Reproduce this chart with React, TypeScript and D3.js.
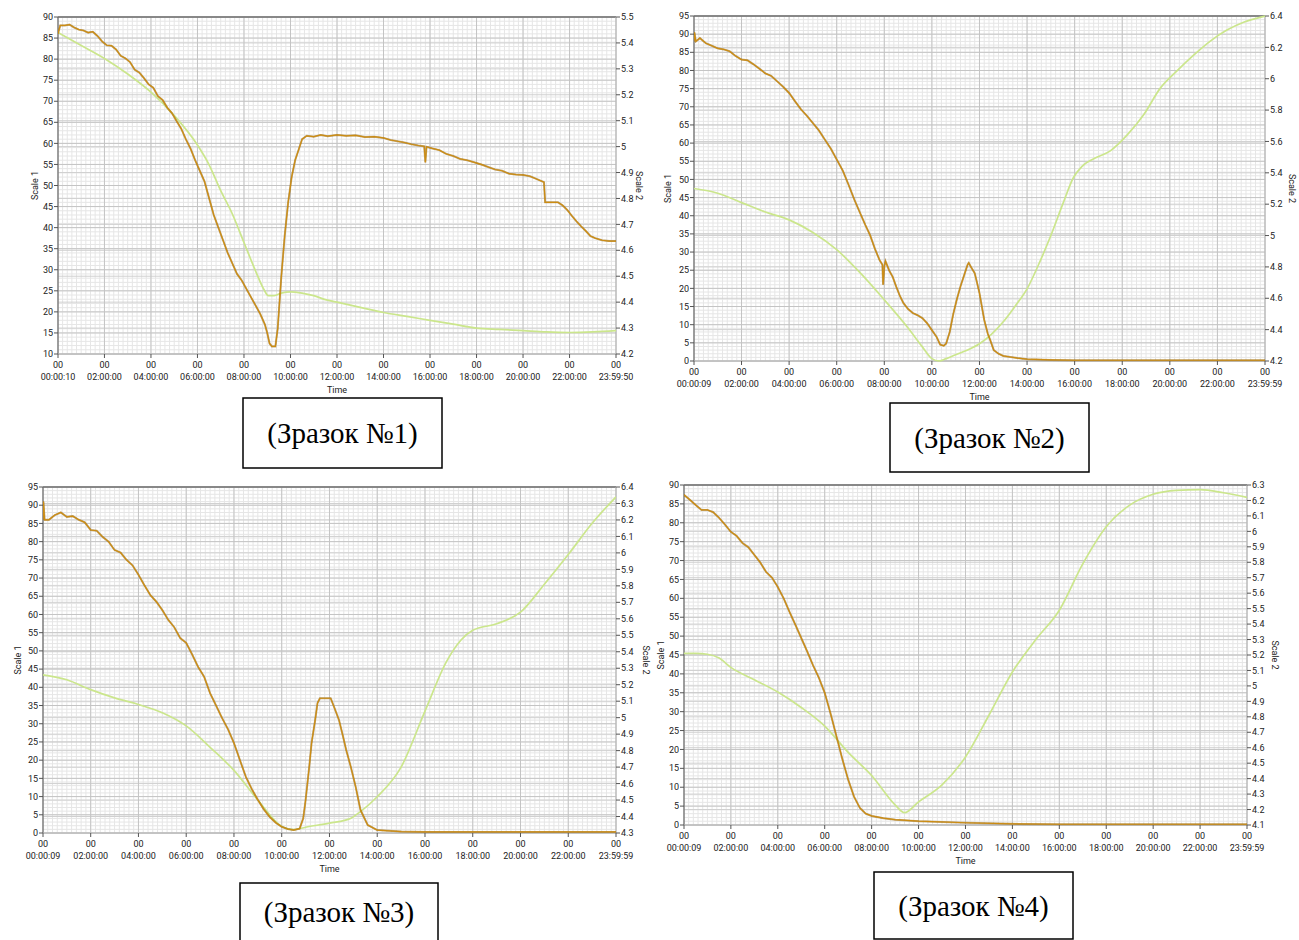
import React from 'react';
import * as d3 from 'd3';

// ---------------- DATA ----------------
const xLabelsA = ['00:00:10', '02:00:00', '04:00:00', '06:00:00', '08:00:00', '10:00:00', '12:00:00', '14:00:00', '16:00:00', '18:00:00', '20:00:00', '22:00:00', '23:59:50'];
const xLabelsB = ['00:00:09', '02:00:00', '04:00:00', '06:00:00', '08:00:00', '10:00:00', '12:00:00', '14:00:00', '16:00:00', '18:00:00', '20:00:00', '22:00:00', '23:59:59'];
const captions = ['(Зразок №1)', '(Зразок №2)', '(Зразок №3)', '(Зразок №4)'];

// Panel 1 (Scale 1 = orange, Scale 2 = green)
const p1OrangeT = [0, 0.1, 0.3, 0.5, 0.7, 0.9, 1.1, 1.3, 1.5, 1.7, 1.9, 2.1, 2.3, 2.5, 2.7, 2.9, 3.1, 3.3, 3.5, 3.7, 3.9, 4.1, 4.3, 4.5, 4.7, 4.9, 5.1, 5.3, 5.5, 5.7, 5.9, 6.1, 6.3, 6.5, 6.7, 6.9, 7.1, 7.3, 7.5, 7.7, 7.9, 8.1, 8.3, 8.5, 8.7, 8.9, 9.0, 9.1, 9.2, 9.35, 9.45, 9.6, 9.75, 9.9, 10.05, 10.2, 10.35, 10.5, 10.7, 11, 11.3, 11.6, 12, 12.4, 12.8, 13.2, 13.6, 14, 14.3, 14.6, 14.9, 15.2, 15.5, 15.75, 15.8, 15.85, 16.1, 16.4, 16.7, 17, 17.3, 17.6, 17.9, 18.2, 18.5, 18.8, 19.1, 19.4, 19.7, 20, 20.3, 20.6, 20.9, 20.95, 21.2, 21.5, 21.7, 21.9, 22.1, 22.3, 22.5, 22.7, 22.9, 23.1, 23.4, 23.7, 24];
const p1OrangeV = [86, 88, 88, 88.2, 87.5, 87, 86.8, 86.3, 86.5, 85.5, 84.2, 83.3, 83.2, 82.3, 80.8, 80.2, 79.3, 77.5, 76.8, 75.5, 74, 73.2, 71.2, 70.3, 68.5, 67.2, 65.3, 63.5, 61, 58.8, 56, 53.5, 51, 47, 43, 40, 37, 34, 31.5, 29, 27.5, 25.5, 23.5, 21.5, 19.5, 17, 15, 12.5, 11.8, 11.8, 16, 28, 38, 46, 52, 56, 58.5, 61, 61.8, 61.6, 62, 61.7, 62, 61.8, 61.9, 61.5, 61.6, 61.3, 60.8, 60.5, 60.2, 59.8, 59.5, 59.3, 55.5, 59.2, 58.8, 58.4, 57.5, 57, 56.3, 56, 55.5, 55, 54.4, 53.8, 53.5, 52.8, 52.6, 52.5, 52.2, 51.5, 50.8, 46, 46, 46, 45.3, 44.2, 42.8, 41.5, 40.3, 39.2, 38, 37.5, 37, 36.8, 36.8];
const p1GreenT = [0, 1, 2, 3, 4, 5, 6, 6.5, 7, 7.5, 8, 8.5, 8.85, 9.05, 9.3, 9.6, 10, 10.5, 11, 11.5, 12, 13, 14, 15, 16, 17, 18, 19, 20, 21, 22, 23, 24];
const p1GreenV = [5.44, 5.39, 5.34, 5.28, 5.21, 5.12, 5.006, 4.93, 4.83, 4.74, 4.63, 4.52, 4.45, 4.425, 4.425, 4.435, 4.44, 4.435, 4.425, 4.41, 4.40, 4.38, 4.36, 4.345, 4.33, 4.315, 4.30, 4.295, 4.29, 4.285, 4.283, 4.285, 4.29];

// Panel 2
const p2OrangeT = [0, 0.02, 0.08, 0.25, 0.5, 0.75, 1, 1.25, 1.5, 1.75, 2, 2.25, 2.5, 2.75, 3, 3.25, 3.5, 3.75, 4, 4.25, 4.5, 4.75, 5, 5.25, 5.5, 5.75, 6, 6.25, 6.5, 6.75, 7, 7.2, 7.4, 7.6, 7.8, 7.92, 7.95, 8.0, 8.05, 8.2, 8.35, 8.5, 8.65, 8.8, 9, 9.2, 9.4, 9.6, 9.8, 10, 10.2, 10.35, 10.5, 10.6, 10.75, 10.9, 11.05, 11.2, 11.35, 11.5, 11.55, 11.65, 11.8, 11.9, 12, 12.1, 12.2, 12.35, 12.45, 12.6, 12.8, 13, 13.3, 13.6, 14, 15, 16, 18, 20, 22, 24];
const p2OrangeV = [88, 90.5, 88, 88.9, 87.5, 86.8, 86.1, 85.8, 85.3, 84, 83, 82.8, 81.7, 80.5, 79.2, 78.5, 77, 75.5, 73.8, 71.5, 69.3, 67.5, 65.5, 63.5, 61, 58.5, 55.5, 52.5, 48.5, 44.3, 40.5, 37.5, 34.7, 31, 27.8, 26.5, 21, 26, 27.5, 25, 23.2, 20.5, 18, 16, 14.3, 13.2, 12.6, 11.8, 10.4, 8.5, 6.6, 4.5, 4.2, 4.8, 8, 13, 17, 20.5, 23.5, 26.5, 27, 25.8, 24.2, 21.5, 18.7, 15, 11.3, 7.5, 5.8, 3, 2, 1.4, 1.1, 0.8, 0.5, 0.3, 0.2, 0.2, 0.2, 0.2, 0.2];
const p2GreenT = [0, 1, 2, 3, 4, 5, 6, 7, 8, 9, 9.6, 10, 10.3, 10.6, 11, 11.5, 12, 12.5, 13, 13.5, 14, 14.5, 15, 15.5, 15.95, 16.3, 16.8, 17.5, 18.2, 18.9, 19.6, 20.3, 21, 21.7, 22.4, 23.1, 24];
const p2GreenV = [5.30, 5.27, 5.21, 5.15, 5.10, 5.02, 4.91, 4.76, 4.59, 4.41, 4.29, 4.215, 4.20, 4.215, 4.24, 4.27, 4.31, 4.37, 4.45, 4.55, 4.66, 4.82, 5.0, 5.2, 5.37, 5.44, 5.49, 5.54, 5.64, 5.77, 5.94, 6.05, 6.15, 6.24, 6.31, 6.36, 6.40];

// Panel 3
const p3OrangeT = [0, 0.02, 0.07, 0.25, 0.5, 0.75, 1, 1.25, 1.5, 1.75, 2, 2.25, 2.5, 2.75, 3, 3.25, 3.5, 3.75, 4, 4.25, 4.5, 4.75, 5, 5.25, 5.5, 5.75, 6, 6.25, 6.5, 6.75, 7, 7.25, 7.5, 7.75, 8, 8.25, 8.5, 8.75, 9, 9.25, 9.5, 9.75, 10, 10.25, 10.5, 10.75, 10.9, 11, 11.15, 11.25, 11.4, 11.5, 11.6, 12.05, 12.2, 12.4, 12.55, 12.7, 12.9, 13.1, 13.3, 13.6, 14, 15, 16, 24];
const p3OrangeV = [86, 91, 86, 86, 87.3, 88, 86.8, 87, 86, 85.3, 83.2, 83, 81.3, 80, 77.7, 77, 75, 73.5, 70.9, 68, 65.3, 63.5, 61.2, 58.5, 56.5, 53.5, 52.2, 49, 45.6, 42.9, 38.4, 35, 31.6, 28.5, 24.7, 20, 15.4, 12, 9.1, 6.5, 4.4, 2.8, 1.7, 1.1, 0.8, 1.2, 4, 9, 18, 24.7, 31, 35.7, 37, 37, 34.5, 31, 27, 22.8, 18, 12.6, 6.3, 2.2, 0.8, 0.4, 0.3, 0.3];
const p3GreenT = [0, 1, 2, 3, 4, 5, 6, 7, 8, 9, 10, 10.5, 11, 12, 12.9, 13.3, 14, 15, 16, 16.9, 17.5, 18, 19, 20, 21, 22, 23, 24];
const p3GreenV = [5.26, 5.23, 5.17, 5.12, 5.08, 5.03, 4.95, 4.82, 4.68, 4.50, 4.34, 4.32, 4.335, 4.36, 4.39, 4.43, 4.52, 4.70, 5.04, 5.34, 5.47, 5.53, 5.57, 5.64, 5.81, 5.99, 6.18, 6.34];

// Panel 4
const p4OrangeT = [0, 0.25, 0.5, 0.75, 1, 1.25, 1.5, 1.75, 2, 2.25, 2.5, 2.75, 3, 3.25, 3.5, 3.75, 4, 4.25, 4.5, 4.75, 5, 5.25, 5.5, 5.75, 6, 6.25, 6.5, 6.75, 7, 7.25, 7.5, 7.75, 8, 8.5, 9, 10, 12, 14, 16, 24];
const p4OrangeV = [87.4, 86.1, 84.7, 83.4, 83.4, 82.8, 81.3, 79.5, 77.6, 76.5, 74.6, 73.5, 71.5, 69.5, 67, 65.5, 63, 60, 56.4, 53, 49.5, 46, 42.3, 39, 35, 29.5, 23.5, 17.5, 12, 7.5, 4.5, 3, 2.4, 1.8, 1.4, 1.0, 0.6, 0.3, 0.2, 0.2];
const p4GreenT = [0, 0.5, 1, 1.5, 2, 3, 4, 5, 6, 7, 8, 9, 9.4, 10, 11, 12, 13, 14, 15, 16, 17, 18, 19, 20, 21, 22, 23, 24];
const p4GreenV = [5.21, 5.21, 5.205, 5.18, 5.12, 5.04, 4.96, 4.86, 4.74, 4.57, 4.42, 4.23, 4.18, 4.25, 4.36, 4.54, 4.81, 5.09, 5.30, 5.49, 5.79, 6.03, 6.17, 6.24, 6.265, 6.27, 6.25, 6.22];

// ---------------- LAYOUT ----------------
const FONT = 'Roboto, "Open Sans", sans-serif';
const ORANGE = '#CC8C12';
const GREEN = '#CBE68C';

type Cfg = {
  id: string;
  left: number; top: number; right: number; bottom: number;
  y1: [number, number]; y1Step: number;
  y2: [number, number]; y2Step: number;
  xStart: number; xEnd: number;
  xLabels: string[];
  oT: number[]; oV: number[]; gT: number[]; gV: number[];
  s1x: number; s2x: number;
};

const panels: Cfg[] = [
  { id: 'p1', left: 58, top: 17, right: 616, bottom: 354, y1: [10, 90], y1Step: 5, y2: [4.2, 5.5], y2Step: 0.1, xStart: 10, xEnd: 86390, xLabels: xLabelsA, oT: p1OrangeT, oV: p1OrangeV, gT: p1GreenT, gV: p1GreenV, s1x: 35, s2x: 639 },
  { id: 'p2', left: 694, top: 16, right: 1265, bottom: 361, y1: [0, 95], y1Step: 5, y2: [4.2, 6.4], y2Step: 0.2, xStart: 9, xEnd: 86399, xLabels: xLabelsB, oT: p2OrangeT, oV: p2OrangeV, gT: p2GreenT, gV: p2GreenV, s1x: 668, s2x: 1292 },
  { id: 'p3', left: 43, top: 487, right: 616, bottom: 833, y1: [0, 95], y1Step: 5, y2: [4.3, 6.4], y2Step: 0.1, xStart: 9, xEnd: 86399, xLabels: xLabelsB, oT: p3OrangeT, oV: p3OrangeV, gT: p3GreenT, gV: p3GreenV, s1x: 18, s2x: 646 },
  { id: 'p4', left: 684, top: 485, right: 1247, bottom: 825, y1: [0, 90], y1Step: 5, y2: [4.1, 6.3], y2Step: 0.1, xStart: 9, xEnd: 86399, xLabels: xLabelsB, oT: p4OrangeT, oV: p4OrangeV, gT: p4GreenT, gV: p4GreenV, s1x: 661, s2x: 1275 },
];

const captionBoxes = [
  { x: 243, y: 398, w: 199, h: 70 },
  { x: 890, y: 403, w: 199, h: 69 },
  { x: 240, y: 883, w: 198, h: 70 },
  { x: 874, y: 872, w: 199, h: 67 },
];

function fmt(v: number) {
  return String(+v.toFixed(2));
}

function Panel({ c }: { c: Cfg }) {
  const x = d3.scaleLinear().domain([c.xStart / 3600, c.xEnd / 3600]).range([c.left, c.right]);
  const y1 = d3.scaleLinear().domain(c.y1).range([c.bottom, c.top]);
  const y2 = d3.scaleLinear().domain(c.y2).range([c.bottom, c.top]);

  const xTicks = [c.xStart / 3600, ...d3.range(2, 24, 2), c.xEnd / 3600];
  const xMinor = d3.range(0, 24.001, 0.2).filter((h) => x(h) >= c.left && x(h) <= c.right);
  const y1Major = d3.range(c.y1[0], c.y1[1] + 0.001, c.y1Step);
  const y1Minor = d3.range(c.y1[0], c.y1[1] + 0.001, 1);
  const n2 = Math.round((c.y2[1] - c.y2[0]) / c.y2Step);
  const y2Ticks = d3.range(0, n2 + 1).map((i) => c.y2[0] + i * c.y2Step);

  const orangeLine = d3.line<number>().x((_, i) => x(c.oT[i])).y((v) => y1(v)).curve(d3.curveLinear);
  const greenLine = d3.line<number>().x((_, i) => x(c.gT[i])).y((v) => y2(v)).curve(d3.curveMonotoneX);

  const cx = (c.left + c.right) / 2;
  const cy = (c.top + c.bottom) / 2;

  return (
    <g>
      <defs>
        <clipPath id={`clip-${c.id}`}>
          <rect x={c.left} y={c.top - 1} width={c.right - c.left} height={c.bottom - c.top + 2} />
        </clipPath>
      </defs>
      <rect x={c.left} y={c.top} width={c.right - c.left} height={c.bottom - c.top} fill="#ffffff" />
      {/* minor grid */}
      {xMinor.map((h, i) => (
        <line key={`xm${i}`} x1={x(h)} x2={x(h)} y1={c.top} y2={c.bottom} stroke="#e6e6e6" strokeWidth={1} />
      ))}
      {y1Minor.map((v, i) => (
        <line key={`ym${i}`} x1={c.left} x2={c.right} y1={y1(v)} y2={y1(v)} stroke="#e6e6e6" strokeWidth={1} />
      ))}
      {/* major grid */}
      {y2Ticks.map((v, i) => (
        <line key={`y2g${i}`} x1={c.left} x2={c.right} y1={y2(v)} y2={y2(v)} stroke="#d0d0d0" strokeWidth={1} />
      ))}
      {y1Major.map((v, i) => (
        <line key={`y1g${i}`} x1={c.left} x2={c.right} y1={y1(v)} y2={y1(v)} stroke="#c4c4c4" strokeWidth={1} />
      ))}
      {xTicks.map((h, i) => (
        <line key={`xg${i}`} x1={x(h)} x2={x(h)} y1={c.top} y2={c.bottom} stroke="#c4c4c4" strokeWidth={1} />
      ))}
      {/* frame */}
      <line x1={c.left} x2={c.right} y1={c.top} y2={c.top} stroke="#6f6f6f" strokeWidth={1.5} />
      <line x1={c.left} x2={c.left} y1={c.top} y2={c.bottom} stroke="#6f6f6f" strokeWidth={1.2} />
      <line x1={c.right} x2={c.right} y1={c.top} y2={c.bottom} stroke="#b4b4b4" strokeWidth={1} />
      <line x1={c.left} x2={c.right} y1={c.bottom} y2={c.bottom} stroke="#b4b4b4" strokeWidth={1} />
      {/* series */}
      <g clipPath={`url(#clip-${c.id})`}>
        <path d={greenLine(c.gV) || ''} fill="none" stroke={GREEN} strokeWidth={1.7} />
        <path d={orangeLine(c.oV) || ''} fill="none" stroke="#8f6410" strokeWidth={2.0} strokeOpacity={0.55} />
        <path d={orangeLine(c.oV) || ''} fill="none" stroke={ORANGE} strokeWidth={1.2} />
      </g>
      {/* left axis */}
      {y1Major.map((v, i) => (
        <g key={`l${i}`}>
          <line x1={c.left - 4} x2={c.left} y1={y1(v)} y2={y1(v)} stroke="#555" strokeWidth={1} />
          <text x={c.left - 5} y={y1(v)} dy="0.35em" textAnchor="end" fontFamily={FONT} fontSize={9} fill="#222">{fmt(v)}</text>
        </g>
      ))}
      {/* right axis */}
      {y2Ticks.map((v, i) => (
        <g key={`r${i}`}>
          <line x1={c.right} x2={c.right + 4} y1={y2(v)} y2={y2(v)} stroke="#555" strokeWidth={1} />
          <text x={c.right + 5} y={y2(v)} dy="0.35em" textAnchor="start" fontFamily={FONT} fontSize={9} fill="#222">{fmt(v)}</text>
        </g>
      ))}
      {/* x axis */}
      {xTicks.map((h, i) => (
        <g key={`x${i}`}>
          <line x1={x(h)} x2={x(h)} y1={c.bottom} y2={c.bottom + 4} stroke="#555" strokeWidth={1} />
          <text x={x(h)} y={c.bottom + 14} textAnchor="middle" fontFamily={FONT} fontSize={9} fill="#222">00</text>
          <text x={x(h)} y={c.bottom + 26} textAnchor="middle" fontFamily={FONT} fontSize={9} fill="#222">{c.xLabels[i]}</text>
        </g>
      ))}
      <text x={cx} y={c.bottom + 39} textAnchor="middle" fontFamily={FONT} fontSize={9} fill="#222">Time</text>
      <text transform={`translate(${c.s1x},${cy}) rotate(-90)`} textAnchor="middle" dy="0.35em" fontFamily={FONT} fontSize={9} fill="#222">Scale 1</text>
      <text transform={`translate(${c.s2x},${cy}) rotate(90)`} textAnchor="middle" dy="0.35em" fontFamily={FONT} fontSize={9} fill="#222">Scale 2</text>
    </g>
  );
}

export default function App() {
  return (
    <svg width={1299} height={940} style={{ position: 'absolute', left: 0, top: 0, background: '#fff' }}>
      <rect x={0} y={0} width={1299} height={940} fill="#fff" />
      {panels.map((c) => (
        <Panel key={c.id} c={c} />
      ))}
      {captionBoxes.map((b, i) => (
        <g key={`cap${i}`}>
          <rect x={b.x} y={b.y} width={b.w} height={b.h} fill="#fff" stroke="#000" strokeWidth={1.5} />
          <text x={b.x + b.w / 2} y={b.y + Math.min(b.h, 940 - b.y) / 2} dy="0.35em" textAnchor="middle" fontFamily='"Liberation Serif", "Times New Roman", serif' fontSize={29} fill="#000">{captions[i]}</text>
        </g>
      ))}
    </svg>
  );
}
